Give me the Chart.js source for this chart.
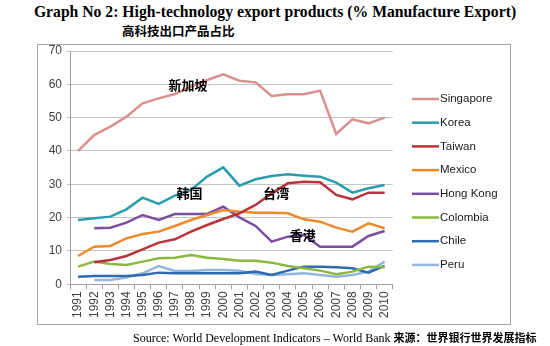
<!DOCTYPE html>
<html><head><meta charset="utf-8">
<script src="https://cdn.jsdelivr.net/npm/chart.js@4/dist/chart.umd.min.js"></script>
<style>
html,body{margin:0;padding:0;background:#fff;}
#wrap{position:relative;width:550px;height:346px;overflow:hidden;background:#fff;}
#frame{position:absolute;left:37px;top:44px;width:474px;height:281px;border:1px solid #a6a6a6;box-sizing:border-box;}
canvas{position:absolute;left:0;top:0;}
.t{position:absolute;white-space:nowrap;color:#000;}
</style></head>
<body><div id="wrap">
<div class="t" style="left:0;width:550px;text-align:center;top:3px;font:bold 15.7px 'Liberation Serif';">Graph No 2: High-technology export products (% Manufacture Export)</div>
<div class="t" style="left:122px;top:21px;font:bold 12.5px 'Noto Sans CJK SC';">高科技出口产品占比</div>
<div id="frame"></div>
<canvas id="c" width="550" height="346"></canvas>
<div class="t" style="left:133px;top:329px;font:12px 'Liberation Serif';">Source: World Development Indicators – World Bank <span style="font:bold 11px 'Noto Sans CJK SC'">来源：世界银行世界发展指标</span></div>
</div>
<script>
const years = ['1991','1992','1993','1994','1995','1996','1997','1998','1999','2000','2001','2002','2003','2004','2005','2006','2007','2008','2009','2010'];
const singapore = [40.0,44.8,47.3,50.3,54.3,55.8,57.1,59.3,61.3,63.0,61.1,60.6,56.5,57.0,57.0,58.1,45.1,49.5,48.3,50.0];
const korea     = [19.3,19.8,20.3,22.5,26.0,24.1,26.6,28.3,32.3,35.1,29.6,31.5,32.5,33.0,32.6,32.3,30.5,27.5,28.8,29.8];
const taiwan    = [null,6.6,7.3,8.5,10.5,12.5,13.5,15.8,17.8,19.6,21.3,23.8,27.3,30.3,30.8,30.6,26.8,25.5,27.5,27.5];
const mexico    = [8.5,11.3,11.5,13.8,15.1,15.8,17.5,19.3,20.8,22.3,21.8,21.5,21.5,21.3,19.5,18.8,17.0,15.8,18.3,16.8];
const hongkong  = [null,16.8,17.0,18.5,20.8,19.3,21.1,21.1,21.1,23.3,20.1,17.5,12.8,14.3,14.8,11.3,11.3,11.3,14.5,16.0];
const colombia  = [5.3,6.8,6.1,5.8,6.8,7.8,8.0,8.8,8.0,7.6,7.1,7.1,6.5,5.5,4.8,4.1,3.0,3.8,5.3,5.1];
const chile     = [2.3,2.5,2.5,2.5,2.8,3.5,3.3,3.3,3.3,3.3,3.3,3.8,2.8,4.1,5.3,5.3,5.1,4.8,3.5,5.5];
const peru      = [null,1.3,1.3,2.0,3.3,5.5,4.0,4.0,4.3,4.3,4.1,3.1,2.8,3.0,3.3,2.8,2.3,2.8,3.8,6.8];

const seriesNames = ['Singapore','Korea','Taiwan','Mexico','Hong Kong','Colombia','Chile','Peru'];
const seriesData = [singapore,korea,taiwan,mexico,hongkong,colombia,chile,peru];
const seriesColors = ['#d9908e','#2a9cae','#b8333b','#ec8a2c','#7a4fa0','#8db840','#2e6bb0','#92b6dc'];

const notes = [
  {text:'新加坡', at:6.82, v:59.9},
  {text:'韩国', at:6.91, v:27.4},
  {text:'台湾', at:12.28, v:27.5},
  {text:'香港', at:13.92, v:14.8}
];

const extras = {
  id:'extras',
  afterDatasetsDraw(chart){
    const ctx = chart.ctx, xs = chart.scales.x, ys = chart.scales.y;
    ctx.save();
    ctx.font = "bold 13px 'Noto Sans CJK SC'";
    ctx.fillStyle = '#000';
    ctx.textAlign = 'center';
    ctx.textBaseline = 'middle';
    notes.forEach(n => ctx.fillText(n.text, xs.getPixelForValue(n.at), ys.getPixelForValue(n.v)));
    ctx.font = "11.5px 'Liberation Sans'";
    ctx.textAlign = 'left';
    ctx.fillStyle = '#1a1a1a';
    chart.data.datasets.forEach((d,i) => {
      const y = 99 + i*23.7;
      ctx.strokeStyle = d.borderColor;
      ctx.lineWidth = 2.5;
      ctx.beginPath(); ctx.moveTo(412,y); ctx.lineTo(439,y); ctx.stroke();
      ctx.fillText(d.label, 440, y);
    });
    ctx.restore();
  }
};

new Chart(document.getElementById('c'), {
  type:'line',
  data:{
    labels: years,
    datasets: seriesNames.map((n,i)=>({
      label:n, data:seriesData[i], borderColor:seriesColors[i], backgroundColor:seriesColors[i],
      borderWidth:2.5, pointRadius:0, tension:0, spanGaps:false
    }))
  },
  options:{
    responsive:false, animation:false, devicePixelRatio:1,
    layout:{padding:{left:0, top:51, right:157.3, bottom:0}},
    plugins:{legend:{display:false}, tooltip:{enabled:false}},
    scales:{
      x:{
        offset:true,
        grid:{offset:true, drawOnChartArea:false, drawTicks:true, tickLength:5, color:'#a0a0a0'},
        border:{color:'#a0a0a0'},
        ticks:{minRotation:90, maxRotation:90, autoSkip:false, padding:2, color:'#404040', font:{family:'Liberation Sans', size:12}},
        afterFit(s){ s.height = 346 - 284.3; }
      },
      y:{
        min:0, max:70,
        ticks:{stepSize:10, padding:5, color:'#404040', font:{family:'Liberation Sans', size:12}},
        grid:{color:'#c4c4c4', tickLength:3},
        border:{color:'#a0a0a0'},
        afterFit(s){ s.width = 70; }
      }
    }
  },
  plugins:[extras]
});
</script>
</body></html>
